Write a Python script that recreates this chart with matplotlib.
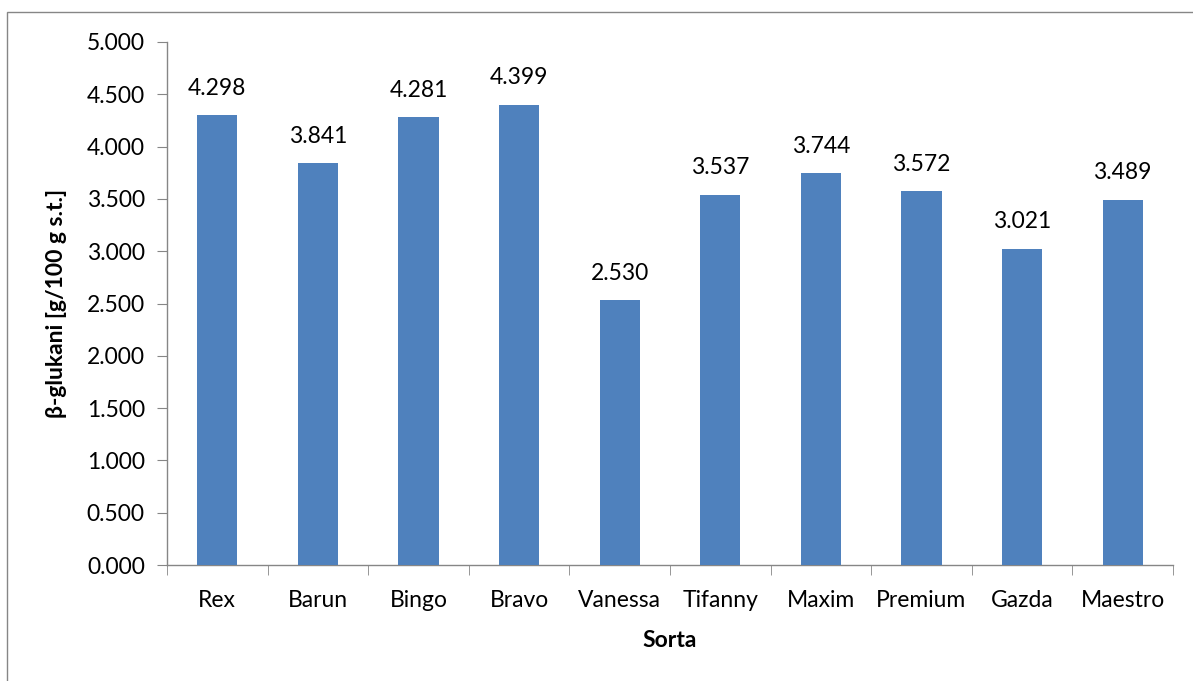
import matplotlib
matplotlib.use("Agg")
import matplotlib.pyplot as plt
from matplotlib.patches import Rectangle
from matplotlib.ticker import FixedLocator, MultipleLocator, FuncFormatter

categories = ["Rex", "Barun", "Bingo", "Bravo", "Vanessa", "Tifanny", "Maxim", "Premium", "Gazda", "Maestro"]
values = [4.298, 3.841, 4.281, 4.399, 2.530, 3.537, 3.744, 3.572, 3.021, 3.489]
ylabel = "β-glukani [g/100 g s.t.]"
xlabel = "Sorta"

plt.rcParams['font.family'] = ['Lato', 'DejaVu Sans']

W, H = 1193, 681
fig = plt.figure(figsize=(W / 100, H / 100), dpi=100)
fig.patch.set_facecolor("white")

# outer chart border
fig.add_artist(Rectangle((7 / W, -0.05), 1.2, 1 - 12 / H + 0.05, transform=fig.transFigure,
                         fill=False, edgecolor="#868686", linewidth=1.0))

left, right = 167 / W, 1173 / W
bottom, top = 1 - 565 / H, 1 - 42 / H
ax = fig.add_axes([left, bottom, right - left, top - bottom])

FS = 16.5
x = list(range(len(categories)))
bars = ax.bar(x, values, width=0.4, color="#4F81BD", zorder=3)
ax.set_xlim(-0.5, len(categories) - 0.5)
ax.set_ylim(0, 5.0)

ax.yaxis.set_major_locator(MultipleLocator(0.5))
ax.yaxis.set_major_formatter(FuncFormatter(lambda v, p: f"{v:.3f}"))
ax.set_xticks(x)
ax.set_xticklabels(categories)
ax.xaxis.set_minor_locator(FixedLocator([i - 0.5 for i in range(len(categories) + 1)]))
ax.tick_params(axis="x", which="major", length=0, pad=18, labelsize=FS)
ax.tick_params(axis="x", which="minor", length=7, color="#868686", direction="out")
ax.tick_params(axis="y", length=7, color="#868686", direction="out", pad=9, labelsize=FS)

for s in ["top", "right"]:
    ax.spines[s].set_visible(False)
for s in ["left", "bottom"]:
    ax.spines[s].set_color("#868686")
    ax.spines[s].set_linewidth(1.0)

for b, v in zip(bars, values):
    ax.annotate(f"{v:.3f}", (b.get_x() + b.get_width() / 2, v), xytext=(0, 12),
                textcoords="offset points", ha="center", va="bottom", fontsize=FS)

ax.set_xlabel(xlabel, fontsize=FS, fontweight="bold", labelpad=14)
ax.set_ylabel(ylabel, fontsize=FS, fontweight="bold", labelpad=14)

fig.savefig("out.png", dpi=100)
